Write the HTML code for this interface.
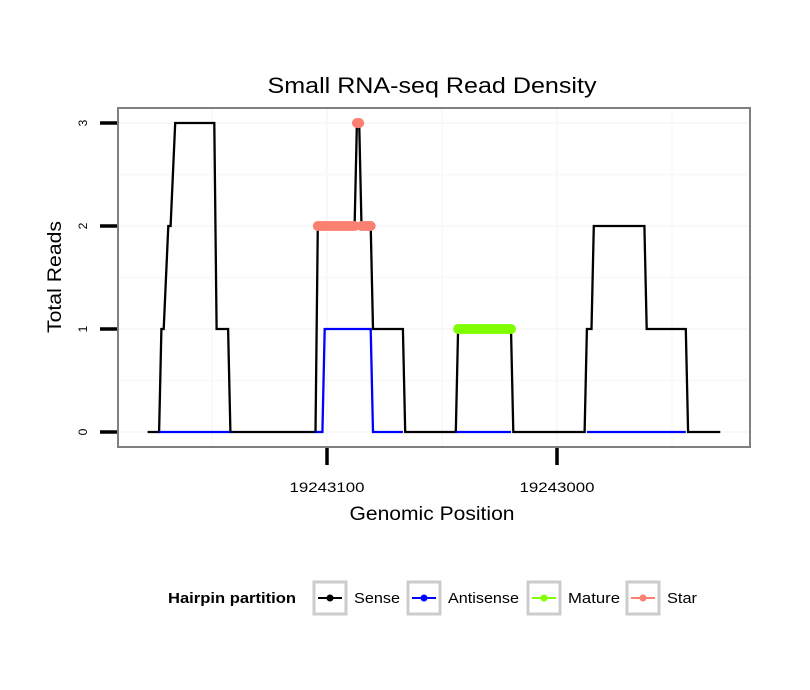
<!DOCTYPE html>
<html><head><meta charset="utf-8"><style>
body{margin:0;background:#fff;}
svg{display:block;font-family:"Liberation Sans",sans-serif;}
</style></head><body>
<svg id="chart" width="810" height="690">
<rect width="810" height="690" fill="#fff"/>
<text x="432" y="93" text-anchor="middle" font-size="22" textLength="329" lengthAdjust="spacingAndGlyphs">Small RNA-seq Read Density</text>
<g id="grid"></g>
<g id="series"></g>
<rect x="118" y="108" width="632" height="339" fill="none" stroke="#7f7f7f" stroke-width="2"/>
<g id="axes"></g>
<text x="432" y="520" text-anchor="middle" font-size="19" textLength="165" lengthAdjust="spacingAndGlyphs">Genomic Position</text>
<text transform="translate(61,277) rotate(-90)" text-anchor="middle" font-size="19" textLength="112" lengthAdjust="spacingAndGlyphs">Total Reads</text>
<g>
<text x="168" y="603" font-size="15" font-weight="bold" textLength="128" lengthAdjust="spacingAndGlyphs">Hairpin partition</text>
<g id="legend"></g>
</g>
</svg>
<script>
const xTicks=[19243100,19243000];
const xTickLabels=["19243100","19243000"];
const yTicks=[0,1,2,3];
const senseX=[19243178,19243173,19243172,19243171,19243169,19243168,19243166,19243149,19243148,19243143,19243142,19243105,19243104,19243088,19243087,19243086,19243085,19243081,19243080,19243067,19243066,19243044,19243043,19243020,19243019,19242988,19242987,19242985,19242984,19242962,19242961,19242944,19242943,19242929];
const senseY=[0,0,1,1,2,2,3,3,1,1,0,0,2,2,3,3,2,2,1,1,0,0,1,1,0,0,1,1,2,2,1,1,0,0];
const antiX=[19243173,19243142,null,19243105,19243102,19243101,19243081,19243080,19243067,null,19243044,19243020,null,19242987,19242944];
const antiY=[0,0,null,0,0,1,1,0,0,null,0,0,null,0,0];
const matureX=[19243043,19243042,19243041,19243040,19243039,19243038,19243037,19243036,19243035,19243034,19243033,19243032,19243031,19243030,19243029,19243028,19243027,19243026,19243025,19243024,19243023,19243022,19243021,19243020];
const matureY=[1,1,1,1,1,1,1,1,1,1,1,1,1,1,1,1,1,1,1,1,1,1,1,1];
const starX=[19243104,19243103,19243102,19243101,19243100,19243099,19243098,19243097,19243096,19243095,19243094,19243093,19243092,19243091,19243090,19243089,19243088,19243087,19243086,19243085,19243084,19243083,19243082,19243081];
const starY=[2,2,2,2,2,2,2,2,2,2,2,2,2,2,2,2,2,3,3,2,2,2,2,2];

const NS="http://www.w3.org/2000/svg";
function xs(p){return 327+(19243100-p)*2.3;}
function ys(v){return 432-v*103;}
function mk(tag,attrs,parent){const e=document.createElementNS(NS,tag);for(const k in attrs)e.setAttribute(k,attrs[k]);parent.appendChild(e);return e;}
const grid=document.getElementById('grid'),series=document.getElementById('series'),axes=document.getElementById('axes'),legend=document.getElementById('legend');
[19243150,19243100,19243050,19243000,19242950].forEach(p=>{const l=mk('line',{x1:xs(p),x2:xs(p),y1:109,y2:446,stroke:'#f8f8f8','stroke-width':p%100===0?2:1.5},grid);

});
[0,0.5,1,1.5,2,2.5,3].forEach(v=>{const l=mk('line',{x1:119,x2:749,y1:ys(v),y2:ys(v),stroke:'#f8f8f8','stroke-width':Number.isInteger(v)?2:1.5},grid);

});
function pathFrom(X,Y){let d='',pen=false;for(let i=0;i<X.length;i++){if(X[i]===null){pen=false;continue;}d+=(pen?'L':'M')+xs(X[i]).toFixed(1)+','+ys(Y[i]).toFixed(1);pen=true;}return d;}
const sp=mk('path',{d:pathFrom(senseX,senseY),fill:'none',stroke:'#000','stroke-width':2.3},series);


const ap=mk('path',{d:pathFrom(antiX,antiY),fill:'none',stroke:'#0000ff','stroke-width':2.3},series);


function dots(X,Y,color,name){for(let i=0;i<X.length;i++){const c=mk('circle',{cx:xs(X[i]),cy:ys(Y[i]),r:5,fill:color},series);

}}
dots(matureX,matureY,'#7fff00','mature-point');
dots(starX,starY,'#fa8072','star-point');
yTicks.forEach(v=>{const t=mk('line',{x1:100,x2:117,y1:ys(v),y2:ys(v),stroke:'#000','stroke-width':3.5},axes);


const tx=mk('text',{transform:`translate(87,${ys(v)}) rotate(-90)`,'text-anchor':'middle','font-size':12},axes);tx.textContent=v;

});
xTicks.forEach((p,i)=>{const t=mk('line',{x1:xs(p),x2:xs(p),y1:448,y2:465,stroke:'#000','stroke-width':3.5},axes);


const tx=mk('text',{x:xs(p),y:492,'text-anchor':'middle','font-size':14,textLength:75,lengthAdjust:'spacingAndGlyphs'},axes);tx.textContent=xTickLabels[i];

});
const legNames=['Sense','Antisense','Mature','Star'],legColors=['#000','#0000ff','#7fff00','#fa8072'],legX=[314,408,528,627],legW=[46,71,52,30];
legNames.forEach((n,i)=>{const g=mk('g',{},legend);


mk('rect',{x:legX[i],y:582,width:32,height:32,fill:'#fff',stroke:'#cccccc','stroke-width':3},g);
mk('line',{x1:legX[i]+4,x2:legX[i]+28,y1:598,y2:598,stroke:legColors[i],'stroke-width':2},g);
mk('circle',{cx:legX[i]+16,cy:598,r:3.5,fill:legColors[i]},g);
const t=mk('text',{x:legX[i]+40,y:603,'font-size':15,textLength:legW[i],lengthAdjust:'spacingAndGlyphs'},g);t.textContent=n;});
</script>
</body></html>
